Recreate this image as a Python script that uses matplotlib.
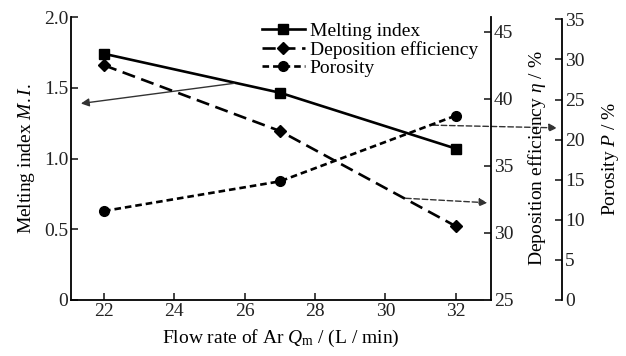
import matplotlib
matplotlib.use("Agg")
import matplotlib.pyplot as plt

plt.rcParams.update({
    "font.family": "Liberation Serif",
    "font.size": 14,
    "mathtext.fontset": "custom",
    "mathtext.rm": "Liberation Serif",
    "mathtext.it": "Liberation Serif:italic",
    "axes.linewidth": 1.3,
    "xtick.direction": "in",
    "ytick.direction": "in",
})

# data
flow_rate = [22, 27, 32]
melting_index = [1.74, 1.465, 1.07]
deposition_eff = [42.5, 37.6, 30.5]
porosity = [11.1, 14.8, 23.0]

fig = plt.figure(figsize=(6.26, 3.56), dpi=100)
ax = fig.add_axes([71 / 626, 1 - 300 / 356, 420 / 626, 283 / 356])
ax2 = ax.twinx()
ax3 = ax.twinx()

ax.plot(flow_rate, melting_index, "-", color="black", lw=1.9,
        marker="s", ms=7, label="Melting index")
ln2, = ax2.plot(flow_rate, deposition_eff, color="black", lw=1.9,
                ls=(0, (5, 2.5)), marker="D", ms=6, label="Deposition efficiency")
ln3, = ax3.plot(flow_rate, porosity, color="black", lw=1.9,
                ls=(0, (2.5, 1.5)), marker="o", ms=7, label="Porosity")

ax.set_xlim(21.06, 33)
ax.set_ylim(0, 2.0)
ax.set_xticks([22, 24, 26, 28, 30, 32])
ax.set_yticks([0, 0.5, 1.0, 1.5, 2.0])
ax.set_yticklabels(["0", "0.5", "1.0", "1.5", "2.0"])
ax2.set_ylim(25, 46.1)
ax2.set_yticks([25, 30, 35, 40, 45])
ax3.set_ylim(0, 35.3)
ax3.set_yticks([0, 5, 10, 15, 20, 25, 30, 35])

for a in (ax, ax2, ax3):
    a.spines["top"].set_visible(False)
    a.tick_params(length=5, width=1.2, colors="#222222", pad=2)
ax.spines["right"].set_visible(False)
for a in (ax2, ax3):
    a.spines["left"].set_visible(False)
    a.spines["bottom"].set_visible(False)
ax3.spines["right"].set_position(("axes", 1.169))
ax3.spines["right"].set_bounds(0, 35)

ax.set_xlabel(r"Flow rate of Ar $Q_{\mathrm{m}}$ / (L / min)", labelpad=6)
ax.set_ylabel(r"Melting index $M.I.$", labelpad=5)
ax2.set_ylabel(r"Deposition efficiency $\eta$ / %", labelpad=9)
ax3.set_ylabel(r"Porosity $P$ / %", labelpad=11)

# pointer arrows to the matching axis
ax.annotate("", xy=(0.017, 0.693), xytext=(0.395, 0.767), xycoords="axes fraction",
            arrowprops=dict(arrowstyle="-|>", lw=1.0, color="#333333",
                            mutation_scale=12))
ax.annotate("", xy=(1.164, 0.608), xytext=(0.855, 0.618), xycoords="axes fraction",
            arrowprops=dict(arrowstyle="-|>", lw=1.0, ls=(0, (4, 2)),
                            color="#333333", mutation_scale=12))
ax.annotate("", xy=(0.998, 0.343), xytext=(0.79, 0.36), xycoords="axes fraction",
            arrowprops=dict(arrowstyle="-|>", lw=1.0, ls=(0, (4, 2)),
                            color="#333333", mutation_scale=12))

h1, l1 = ax.get_legend_handles_labels()
ax.legend(h1 + [ln2, ln3], l1 + [ln2.get_label(), ln3.get_label()],
          loc="upper left", bbox_to_anchor=((262 - 71) / 420, 0.982),
          frameon=False, borderpad=0, borderaxespad=0, handlelength=2.2,
          handletextpad=0.25, labelspacing=0.05)

fig.savefig("out.png", dpi=100)
